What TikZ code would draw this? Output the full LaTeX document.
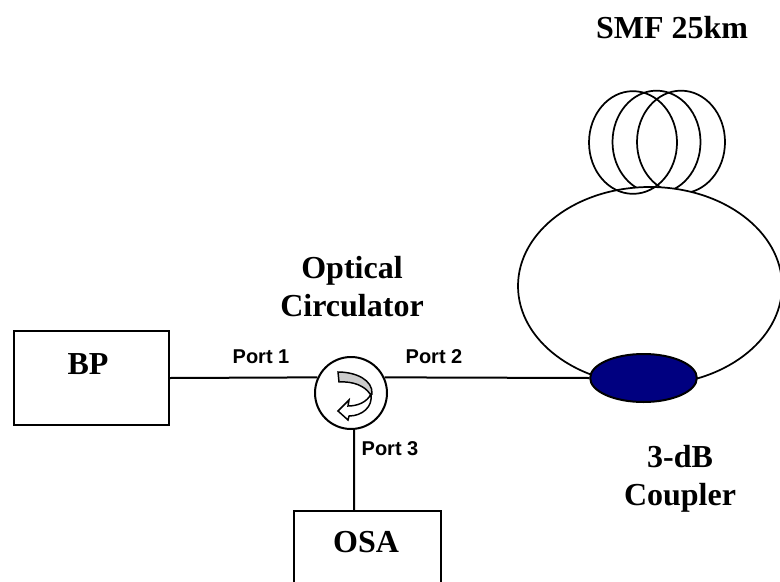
\documentclass[tikz,border=0pt]{standalone}
\usepackage{fontspec}
\setmainfont{Liberation Serif}
\setsansfont{Liberation Sans}
\usepackage{xcolor}
\usetikzlibrary{positioning,shapes.geometric}
\definecolor{coupler}{RGB}{0,0,128}
\definecolor{band}{RGB}{204,204,204}
\begin{document}
\begin{tikzpicture}[x=0.75pt,y=-0.75pt,line width=1.5pt,
  box/.style={draw,rectangle,inner sep=0pt},
  title/.style={font=\bfseries\fontsize{24}{28.5}\selectfont,align=center,inner sep=0pt},
  port/.style={font=\sffamily\bfseries\fontsize{15}{18}\selectfont,inner sep=0pt},
  coil/.style={draw,ellipse,inner sep=0pt,minimum width=66pt,minimum height=77pt,line width=1.3pt}]
  \clip (0,0) rectangle (780,581);
  % coils behind the loop
  \node[coil] (coilc) at (681,142) {};
  \node[coil] (coilb) at (656.5,142) {};
  \node[draw,ellipse,fill=white,inner sep=0pt,line width=1.3pt,minimum width=198pt,minimum height=148.5pt] (loop) at (650,286) {};
  \node[coil] (coila) at (633,142.5) {};
  \node[draw,ellipse,fill=coupler,inner sep=0pt,minimum width=80pt,minimum height=36pt] (coup) at (643.5,378) {};
  \node[box,minimum width=116pt,minimum height=70.5pt] (bp) at (91.5,378) {};
  \node[title] (bptext) at (88,364) {BP};
  \node[draw,circle,inner sep=0pt,minimum size=54pt] (circ) at (351,393) {};
  \node[box,minimum width=110.25pt,minimum height=70pt] (osa) at (367.5,557.5) {};
  \node[title] (osatext) at (366,542) {OSA};
  \coordinate (osatop) at (354,511);
  % circulator arrow
  \filldraw[fill=band,line width=1.1pt] (338,372) .. controls (356,372) and (373,380) .. (372,394)
    -- (370,394) .. controls (365,386) and (353,381) .. (339,382) -- cycle;
  \filldraw[fill=white,line width=1.1pt] (371,394) .. controls (373,407) and (362,416) .. (349,416)
    -- (348,420) -- (338,411) -- (349,400) -- (348,406) .. controls (358,406) and (367,402) .. (371,394) -- cycle;
  \draw (bp.east) -- (circ.155);
  \draw (circ.25) -- (coup.west);
  \draw (circ.-85) -- (osatop);
  \node[title] (smf) at (672,28) {SMF 25km};
  \node[title] (optc) at (352,287) {Optical\\Circulator};
  \node[title] (cplr) at (680,479) {3-dB\\Coupler};
  \node[port] (porta) at (261,357) {Port 1};
  \node[port] (portb) at (434,357) {Port 2};
  \node[port] (portc) at (390,449) {Port 3};
\end{tikzpicture}
\end{document}
